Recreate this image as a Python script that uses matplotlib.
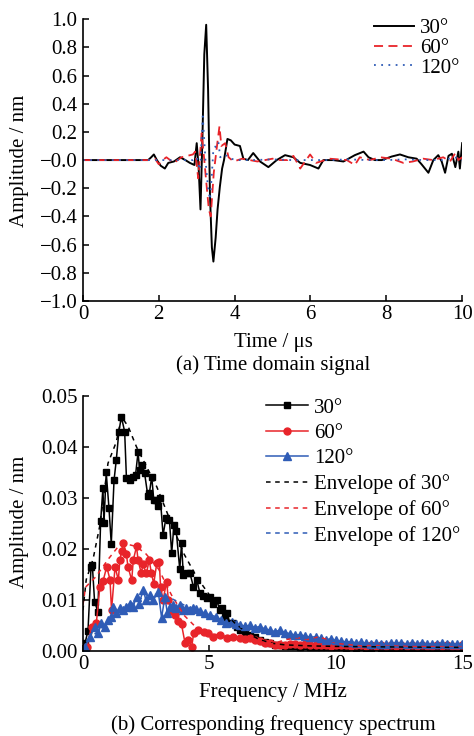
import numpy as np
import matplotlib
matplotlib.use("Agg")
import matplotlib.pyplot as plt

plt.rcParams["font.family"] = ["Liberation Serif", "DejaVu Serif"]
plt.rcParams["mathtext.fontset"] = "stix"

# ---- time domain signal ----
t30 = [0, 1.72, 1.8, 1.87, 1.95, 2.05, 2.16, 2.25, 2.4, 2.56, 2.7, 2.82, 2.94, 3.0, 3.05,
       3.10, 3.15, 3.20, 3.25, 3.30, 3.35, 3.40, 3.44, 3.50, 3.55, 3.61, 3.67, 3.72, 3.81,
       3.9, 4.0, 4.14, 4.23, 4.35, 4.49, 4.67, 4.89, 5.11, 5.33, 5.55, 5.73, 5.99, 6.21,
       6.34, 6.6, 6.87, 7.17, 7.40, 7.53, 7.7, 7.88, 8.14, 8.36, 8.58, 8.8, 8.93, 9.11,
       9.24, 9.37, 9.46, 9.55, 9.64, 9.73, 9.82, 9.9, 9.94, 10.0]
v30 = [0, 0, 0.02, 0.04, 0.0, -0.04, -0.06, -0.02, -0.01, 0.02, 0.0, -0.02, -0.035, 0.12, -0.05,
       -0.35, 0.15, 0.75, 0.96, 0.5, -0.25, -0.62, -0.72, -0.55, -0.35, -0.19, -0.06, 0.0, 0.15,
       0.14, 0.11, 0.10, 0.01, 0.0, 0.05, -0.01, -0.05, 0.0, 0.035, 0.02, -0.02, -0.035, -0.06,
       0.0, 0.0, -0.01, 0.035, 0.06, 0.02, 0.0, 0.0, 0.025, 0.04, 0.02, 0.01, -0.03, -0.09,
       0.0, 0.035, -0.01, -0.09, 0.03, 0.045, -0.05, 0.06, -0.06, 0.12]

t60 = [0, 1.8, 1.9, 2.0, 2.1, 2.2, 2.3, 2.4, 2.5, 2.6, 2.75, 2.9, 2.96, 3.04, 3.13, 3.2,
       3.25, 3.32, 3.37, 3.45, 3.53, 3.60, 3.65, 3.75, 3.84, 3.97, 4.2, 4.4, 4.6, 4.8, 5.0,
       5.2, 5.4, 5.55, 5.73, 5.99, 6.15, 6.5, 6.96, 7.17, 7.3, 7.57, 7.84, 8.14, 8.45, 8.7,
       8.97, 9.24, 9.5, 9.68, 9.82, 9.9, 10.0]
v60 = [0, 0, 0.01, -0.03, 0.0, 0.02, 0.0, -0.02, 0.0, 0.02, 0.03, 0.04, 0.06, -0.13, 0.19, 0.0,
       -0.15, -0.35, -0.40, -0.09, 0.09, 0.24, 0.10, 0.12, 0.02, -0.01, 0.01, 0.0, -0.01, 0.0, 0.01,
       0.0, 0.0, 0.03, -0.06, 0.04, -0.02, 0.01, 0.0, -0.035, 0.02, 0.0, 0.02, 0.01, -0.02, -0.01,
       0.01, 0.0, 0.02, -0.01, 0.05, 0.0, 0.02]

t120 = [0, 2.9, 3.0, 3.09, 3.16, 3.23, 3.30, 3.35, 3.40, 3.44, 3.48, 3.57, 3.62, 3.7, 3.8,
        3.9, 4.05, 4.5, 5.0, 5.5, 6.0, 6.5, 7.0, 7.5, 8.0, 8.5, 9.0, 9.5, 9.8, 10.0]
v120 = [0, 0, 0.02, -0.07, 0.31, 0.0, -0.20, -0.28, -0.1, 0.08, 0.09, 0.13, 0.02, 0.04, 0.03,
        0.01, 0.0, 0.0, 0.005, 0.0, 0.0, 0.0, 0.005, 0.0, 0.0, 0.005, 0.0, 0.0, 0.02, 0.0]

# ---- frequency spectrum ----
f30 = [0.0, 0.08, 0.2, 0.32, 0.37, 0.46, 0.59, 0.70, 0.79, 0.83, 0.92, 1.03, 1.12, 1.23, 1.32,
       1.42, 1.52, 1.65, 1.72, 1.85, 1.98, 2.08, 2.18, 2.24, 2.35, 2.44, 2.57, 2.63, 2.72, 2.80,
       2.88, 2.97, 3.06, 3.17, 3.28, 3.42, 3.51, 3.60, 3.69, 3.83, 3.90, 3.97, 4.10, 4.23, 4.37,
       4.50, 4.63, 4.76, 4.89, 5.02, 5.16, 5.29, 5.42, 5.49, 5.60, 5.69, 5.82, 5.95, 6.08]
a30 = [0.0005, 0.0015, 0.004, 0.0165, 0.0169, 0.0097, 0.0077, 0.0254, 0.032, 0.025, 0.035, 0.028,
       0.021, 0.0335, 0.0375, 0.043, 0.0459, 0.043, 0.0339, 0.0335, 0.0342, 0.0345, 0.039, 0.0355,
       0.0365, 0.0348, 0.0303, 0.031, 0.0342, 0.0297, 0.0297, 0.0284, 0.030, 0.0227, 0.026, 0.0257,
       0.0192, 0.0247, 0.0235, 0.016, 0.0211, 0.0149, 0.0153, 0.0153, 0.0126, 0.014, 0.0113, 0.0107,
       0.0103, 0.0106, 0.0093, 0.0099, 0.008, 0.0084, 0.0067, 0.0074, 0.0054, 0.0055, 0.0048]

f60 = [0.0, 0.15, 0.34, 0.53, 0.67, 0.80, 0.94, 1.07, 1.13, 1.27, 1.40, 1.46, 1.53, 1.60, 1.72,
       1.78, 1.93, 1.99, 2.12, 2.18, 2.31, 2.37, 2.51, 2.62, 2.71, 2.80, 2.92, 3.02, 3.07, 3.17,
       3.31, 3.38, 3.51, 3.64, 3.77, 3.90, 4.04, 4.17, 4.30, 4.38, 4.57, 4.77, 4.96, 5.16, 5.42,
       5.69, 5.95]
a60 = [0.0003, 0.0008, 0.0048, 0.0055, 0.0126, 0.0138, 0.0165, 0.014, 0.008, 0.0165, 0.0139,
       0.0178, 0.0196, 0.0211, 0.019, 0.0165, 0.0139, 0.0178, 0.0205, 0.0178, 0.0152, 0.017,
       0.0152, 0.0178, 0.0152, 0.0132, 0.0172, 0.0175, 0.0126, 0.010, 0.0136, 0.010, 0.0078,
       0.0071, 0.0059, 0.0052, 0.0015, 0.0022, 0.0008, 0.0035, 0.0041, 0.0038, 0.0035, 0.0028,
       0.0032, 0.0025, 0.0028]

f120 = [0.0, 0.08, 0.28, 0.47, 0.60, 0.73, 0.86, 0.99, 1.12, 1.19, 1.32, 1.45, 1.58, 1.72, 1.85,
        1.98, 2.12, 2.22, 2.39, 2.49, 2.64, 2.77, 2.98, 3.11, 3.24, 3.34, 3.43, 3.56, 3.69, 3.83,
        3.96, 4.09, 4.22, 4.35, 4.49, 4.62, 4.82, 5.01, 5.28, 5.47, 5.67, 5.90, 6.05]
a120 = [0.0002, 0.0008, 0.0028, 0.0048, 0.0035, 0.0054, 0.0048, 0.0061, 0.0067, 0.0087, 0.0074,
        0.0084, 0.008, 0.0087, 0.0093, 0.0087, 0.0106, 0.0093, 0.012, 0.0099, 0.0109, 0.0099,
        0.0116, 0.0065, 0.0106, 0.0074, 0.0087, 0.009, 0.0084, 0.009, 0.008, 0.0084, 0.008,
        0.0084, 0.0082, 0.0079, 0.0074, 0.0071, 0.0067, 0.0061, 0.0054, 0.0056, 0.0052]

# tails, 6.2 .. 15 MHz every 0.2
f_tail = np.round(np.arange(6.2, 15.01, 0.2), 1)
a30_tail = [0.0042, 0.0037, 0.0031, 0.0027, 0.0022, 0.0018, 0.0015, 0.0012, 0.0011, 0.0010,
            0.0009, 0.0010, 0.0008, 0.0009, 0.0008, 0.0007, 0.0008, 0.0007, 0.0008, 0.0007,
            0.0007, 0.0006, 0.0007, 0.0006, 0.0007, 0.0006, 0.0006, 0.0007, 0.0006, 0.0006,
            0.0005, 0.0006, 0.0006, 0.0005, 0.0006, 0.0005, 0.0006, 0.0005, 0.0005, 0.0006,
            0.0005, 0.0005, 0.0006, 0.0005, 0.0005]
a60_tail = [0.0025, 0.0023, 0.0025, 0.0021, 0.0019, 0.0016, 0.0015, 0.0012, 0.0011, 0.0012,
            0.0014, 0.0013, 0.0012, 0.0014, 0.0012, 0.0011, 0.0012, 0.0011, 0.0010, 0.0011,
            0.0012, 0.0011, 0.0010, 0.0011, 0.0012, 0.0010, 0.0011, 0.0010, 0.0011, 0.0010,
            0.0011, 0.0010, 0.0011, 0.0010, 0.0011, 0.0010, 0.0011, 0.0010, 0.0010, 0.0011,
            0.0010, 0.0011, 0.0010, 0.0010, 0.0011]
a120_tail = [0.0051, 0.0049, 0.0050, 0.0046, 0.0048, 0.0043, 0.0041, 0.0038, 0.0041, 0.0036,
             0.0034, 0.0031, 0.0032, 0.0029, 0.0027, 0.0028, 0.0025, 0.0022, 0.0024, 0.0021,
             0.0019, 0.0018, 0.0018, 0.0016, 0.0017, 0.0015, 0.0014, 0.0015, 0.0014, 0.0014,
             0.0015, 0.0016, 0.0015, 0.0014, 0.0015, 0.0014, 0.0015, 0.0014, 0.0013, 0.0014,
             0.0015, 0.0014, 0.0014, 0.0013, 0.0014]

# envelopes
fe30 = [0.0, 0.13, 0.4, 0.66, 0.99, 1.32, 1.53, 1.79, 2.12, 2.52, 2.92, 3.5, 4.0, 4.5, 5.0,
        5.5, 6.0, 6.5, 7.0, 7.5, 8.0, 9.0, 10.0, 12.0, 15.0]
ae30 = [0.008, 0.014, 0.018, 0.0244, 0.0368, 0.041, 0.0459, 0.044, 0.040, 0.0361, 0.0322, 0.025,
        0.019, 0.0145, 0.011, 0.008, 0.0055, 0.0035, 0.0022, 0.0015, 0.0012, 0.001, 0.0009,
        0.0008, 0.0007]
fe60 = [0.0, 0.1, 0.5, 1.0, 1.4, 1.7, 2.1, 2.5, 3.0, 3.5, 4.0, 4.5, 5.0, 6.0, 7.0, 7.5, 8.0,
        8.5, 9.0, 9.3, 9.7, 10.0, 11.0, 12.0, 13.0, 15.0]
ae60 = [0.009, 0.0125, 0.0145, 0.018, 0.0205, 0.021, 0.0205, 0.019, 0.016, 0.011, 0.007, 0.0045,
        0.0035, 0.0025, 0.0018, 0.0014, 0.0022, 0.0026, 0.0022, 0.0028, 0.0022, 0.0015, 0.001,
        0.0012, 0.0009, 0.001]
fe120 = [0.0, 0.5, 1.0, 1.5, 2.0, 2.5, 3.0, 3.5, 4.0, 4.5, 5.0, 6.0, 7.0, 8.0, 9.0, 10.0, 12.0, 15.0]
ae120 = [0.0005, 0.0035, 0.0055, 0.0075, 0.0095, 0.0108, 0.0112, 0.0103, 0.009, 0.0078, 0.0068,
         0.005, 0.0038, 0.003, 0.0024, 0.0018, 0.0013, 0.0011]

RED = "#e8242a"
BLUE = "#2f5cb6"
FS = 15

fig = plt.figure(figsize=(4.74, 7.36), dpi=100)


def style_axes(ax):
    for s in ["top", "right"]:
        ax.spines[s].set_visible(False)
    ax.spines["left"].set_linewidth(1.2)
    ax.spines["bottom"].set_linewidth(1.2)
    ax.tick_params(direction="in", length=4, width=1.1, labelsize=FS)
    ax.tick_params(axis="x", pad=3)
    ax.tick_params(axis="y", pad=4)


# ---- (a) time domain ----
ax1 = fig.add_axes([0.175, 0.591, 0.80, 0.383])
ax1.plot(t30, v30, color="black", lw=1.4, label="30°")
ax1.plot(t60, v60, color=RED, lw=1.3, dashes=(5, 3), label="60°")
ax1.plot(t120, v120, color=BLUE, lw=1.3, dashes=(1, 3), label="120°")
ax1.set_xlim(0, 10)
ax1.set_ylim(-1.0, 1.0)
ax1.set_xticks([0, 2, 4, 6, 8, 10])
ax1.set_yticks(np.round(np.arange(-1.0, 1.01, 0.2), 1))
ax1.yaxis.set_major_formatter(plt.FuncFormatter(lambda v, p: f"{v:.1f}".replace("-", "\u2212")))
style_axes(ax1)
ax1.legend(loc="upper right", frameon=False, fontsize=FS, handlelength=1.9,
           labelspacing=0.0, handletextpad=0.3, borderaxespad=0.0, borderpad=0.05,
           bbox_to_anchor=(0.995, 1.005))

fig.text(20 / 474, 1 - 161 / 736, "Amplitude / nm", rotation=90, ha="center", va="center", fontsize=FS)
fig.text(273 / 474, 1 - 342 / 736, "Time / μs", ha="center", va="center", fontsize=FS)
fig.text(273 / 474, 1 - 365 / 736, "(a) Time domain signal", ha="center", va="center", fontsize=FS)

# ---- (b) frequency spectrum ----
ax2 = fig.add_axes([0.175, 0.1155, 0.80, 0.3465])
ax2.plot(f30 + list(f_tail), a30 + a30_tail, color="black", lw=1.1, marker="s", ms=4.5, label="30°")
ax2.plot(f60 + list(f_tail), a60 + a60_tail, color=RED, lw=1.1, marker="o", ms=5, label="60°")
ax2.plot(f120 + list(f_tail), a120 + a120_tail, color=BLUE, lw=1.1, marker="^", ms=5.5, label="120°")
ax2.plot(fe30, ae30, color="black", lw=1.1, dashes=(3, 3), label="Envelope of 30°")
ax2.plot(fe60, ae60, color=RED, lw=1.1, dashes=(3, 3), label="Envelope of 60°")
ax2.plot(fe120, ae120, color=BLUE, lw=1.1, dashes=(3, 3), label="Envelope of 120°")
ax2.set_xlim(0, 15)
ax2.set_ylim(0, 0.05)
ax2.set_xticks([0, 5, 10, 15])
ax2.set_yticks([0.0, 0.01, 0.02, 0.03, 0.04, 0.05])
ax2.yaxis.set_major_formatter(plt.FuncFormatter(lambda v, p: f"{v:.2f}"))
style_axes(ax2)
ax2.legend(loc="upper right", frameon=False, fontsize=FS, handlelength=2.0,
           labelspacing=0.28, handletextpad=0.3, borderaxespad=0.0, borderpad=0.1,
           bbox_to_anchor=(1.0, 1.0))

fig.text(20 / 474, 1 - 522 / 736, "Amplitude / nm", rotation=90, ha="center", va="center", fontsize=FS)
fig.text(273 / 474, 1 - 693 / 736, "Frequency / MHz", ha="center", va="center", fontsize=FS)
fig.text(273 / 474, 1 - 725 / 736, "(b) Corresponding frequency spectrum", ha="center", va="center", fontsize=FS)

fig.savefig("out.png", dpi=100)
